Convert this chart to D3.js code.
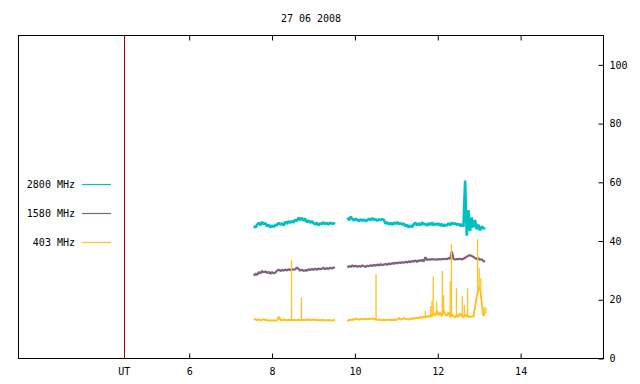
<!DOCTYPE html>
<html>
<head>
<meta charset="utf-8">
<script src="https://cdn.jsdelivr.net/npm/d3@7.9.0/dist/d3.min.js"></script>
<style>
  html, body { margin: 0; padding: 0; background: #fff; }
  svg text { font-family: 'DejaVu Sans Mono', 'Liberation Mono', monospace; font-size: 10px; fill: #000; }
</style>
</head>
<body>
<svg id="chart" width="640" height="384"></svg>
<script>
// Chart title and axis labels
const title = '27 06 2008';
const xTicks = [6, 8, 10, 12, 14];
const yTicks = [0, 20, 40, 60, 80, 100];
const utTime = 4.435; // red marker on the time axis, labelled "UT"

// Sampling of the records (hours UT)
const step = 0.04;
const seg1Start = 7.56;
const seg2Start = 9.82;

// 2800 MHz flux
const f2800a = [
  45.2, 44.6, 45.6, 46.2, 45.4, 46.5, 45.7, 46.1, 45.0, 45.6,
  44.6, 45.3, 44.8, 45.5, 45.4, 46.2, 45.6, 46.0, 45.3, 46.6,
  45.9, 46.8, 46.2, 46.9, 46.3, 47.3, 46.8, 48.0, 47.2, 47.9,
  47.0, 47.6, 46.4, 47.0, 46.2, 46.8, 46.1, 45.6, 46.3, 45.3,
  46.0, 45.8, 46.4, 45.7, 46.2, 45.6, 46.3, 45.9, 46.1, 45.8
];
const f2800b = [
  47.9, 47.1, 48.3, 47.5, 47.0, 47.6, 47.2, 46.8, 47.4, 46.9,
  47.3, 46.7, 47.2, 47.6, 47.1, 47.8, 47.2, 47.5, 46.9, 47.4,
  47.1, 47.5, 47.2, 45.9, 46.4, 45.6, 46.2, 45.5, 46.3, 45.8,
  46.5, 45.7, 46.1, 45.6, 46.0, 45.0, 45.6, 44.6, 45.3, 44.8,
  45.7, 46.2, 45.4, 46.0, 45.3, 46.4, 45.6, 45.9, 45.2, 46.1,
  45.5, 46.3, 45.4, 45.9, 45.6, 46.0, 45.2, 45.8, 45.0, 45.6,
  45.3, 46.0, 45.4, 46.3, 45.7, 46.1, 45.5, 45.9, 45.1, 45.8,
  44.9, 60.6, 41.8, 50.5, 43.4, 48.0, 44.6, 47.2, 44.0, 45.6,
  43.6, 45.0, 44.2, 44.6
];

// 1580 MHz flux
const f1580a = [
  28.2, 28.9, 28.5, 29.4, 29.0, 29.8, 29.3, 29.7, 29.1, 29.5,
  28.9, 29.4, 29.0, 29.3, 29.9, 30.3, 29.8, 30.2, 29.9, 30.3,
  30.0, 30.4, 30.1, 30.5, 30.2, 30.4, 31.0, 30.5, 29.9, 30.3,
  29.8, 30.1, 29.9, 30.4, 30.1, 30.5, 30.2, 30.6, 30.2, 30.7,
  30.4, 30.5, 30.9, 30.4, 30.8, 30.5, 30.9, 30.6, 31.0, 30.9
];
const f1580b = [
  31.0, 31.5, 31.2, 31.7, 31.3, 31.6, 31.2, 31.5, 31.3, 31.7,
  31.4, 31.2, 31.6, 31.4, 31.8, 31.5, 31.9, 31.6, 32.0, 31.7,
  32.1, 31.8, 32.0, 32.2, 31.9, 32.4, 32.1, 32.5, 32.3, 32.6,
  32.4, 32.7, 32.5, 32.8, 32.6, 33.0, 32.7, 33.1, 32.8, 33.2,
  33.0, 33.4, 32.9, 33.5, 33.2, 33.6, 33.1, 34.5, 33.5, 33.8,
  33.6, 33.9, 33.7, 33.8, 33.6, 33.9, 33.7, 33.9, 33.8, 34.0,
  33.8, 34.2, 34.0, 36.4, 33.9, 33.7, 33.9, 33.8, 34.0, 33.7,
  34.0, 34.3, 34.7, 35.0, 35.2, 34.9, 34.6, 34.2, 33.9, 34.1,
  33.6, 33.8, 33.2, 33.0
];

// 403 MHz flux (background level)
const f403a = [
  13.2, 13.4, 13.1, 13.3, 13.0, 13.2, 13.4, 13.1, 13.0, 12.9,
  13.0, 12.9, 13.0, 12.9, 13.0, 14.2, 13.2, 13.0, 13.3, 13.1,
  13.0, 13.2, 13.1, 13.0, 13.2, 13.1, 13.0, 13.2, 13.0, 13.1,
  13.2, 13.1, 13.3, 13.2, 13.1, 13.2, 13.3, 13.1, 13.2, 13.0,
  13.1, 13.0, 13.1, 12.9, 13.0, 13.1, 13.0, 12.9, 13.0, 13.2
];
const f403b = [
  12.6, 13.2, 13.1, 13.3, 13.2, 13.6, 13.4, 13.3, 13.5, 13.4,
  13.4, 13.5, 13.4, 13.5, 13.4, 13.6, 13.5, 13.3, 13.2, 13.2,
  13.2, 13.1, 13.2, 13.1, 13.2, 13.2, 13.1, 13.2, 13.1, 13.2,
  13.2, 13.8, 13.4, 13.3, 13.8, 13.5, 13.4, 13.3, 13.6, 13.4,
  13.8, 13.5, 14.0, 13.6, 14.2, 13.8, 14.3, 14.0, 14.5, 14.1,
  14.8, 14.2, 15.5, 14.6, 16.2, 14.8, 15.6, 14.4, 16.5, 15.0,
  14.6, 15.8, 14.2, 15.0, 14.4, 14.0, 14.8, 14.2, 15.4, 14.4,
  14.0, 15.2, 14.1, 14.6, 14.0, 14.4, 14.2, 17.5, 21.0, 23.5,
  24.5, 19.0, 14.5, 15.5
];
// 403 MHz bursts: [time, peak]
const bursts403 = [
  [8.47, 33.6], [8.71, 20.7], [10.51, 28.8], [11.70, 16.2], [11.83, 17.9],
  [11.86, 19.7], [11.89, 27.9], [11.97, 19.4], [12.11, 29.8], [12.14, 21.6],
  [12.30, 26.4], [12.33, 39.0], [12.45, 23.9], [12.59, 21.3], [12.64, 18.2],
  [12.72, 23.9], [12.96, 40.6], [13.00, 30.7], [13.04, 27.3], [13.12, 17.6],
  [13.16, 17.4]
];

const seriesNames = ['2800 MHz', '1580 MHz', '403 MHz'];
const seriesColors = ['#00c0c0', '#806080', '#ffc020'];
const seriesWidths = [2.6, 2.2, 2];
const seriesData = [[f2800a, f2800b], [f1580a, f1580b], [f403a, f403b]];

const svg = d3.select('#chart');

// Scales
const x = d3.scaleLinear().domain([1.88, 16]).range([18.5, 603.5]);
const y = d3.scaleLinear().domain([0, 110]).range([358.5, 35.5]);

// Title
svg.append('text')
  .attr('x', 311)
  .attr('y', 22)
  .attr('text-anchor', 'middle')
  .text(title);

// Axes (ticks point inward like gnuplot)
svg.append('g')
  .attr('transform', 'translate(0,358.5)')
  .call(d3.axisBottom(x).tickValues(xTicks).tickSizeInner(-5).tickSizeOuter(0).tickPadding(9))
  .call(g => g.select('.domain').remove());

svg.append('g')
  .attr('transform', 'translate(0,35.5)')
  .call(d3.axisTop(x).tickValues(xTicks).tickSizeInner(-5).tickSizeOuter(0).tickFormat(''))
  .call(g => g.select('.domain').remove());

svg.append('g')
  .attr('transform', 'translate(603.5,0)')
  .call(d3.axisRight(y).tickValues(yTicks).tickSizeInner(-5).tickSizeOuter(0).tickPadding(6))
  .call(g => g.select('.domain').remove());

svg.selectAll('.tick text')
  .style('font-family', "'DejaVu Sans Mono', monospace")
  .style('font-size', '10px');

// Frame
svg.append('rect')
  .attr('x', 18.5)
  .attr('y', 35.5)
  .attr('width', 585)
  .attr('height', 323)
  .attr('fill', 'none')
  .attr('stroke', '#000');

// UT marker
svg.append('line')
  .attr('x1', Math.round(x(utTime)) + 0.5)
  .attr('x2', Math.round(x(utTime)) + 0.5)
  .attr('y1', 36)
  .attr('y2', 358)
  .attr('stroke', '#a00000');

svg.append('text')
  .attr('x', x(utTime))
  .attr('y', 374.5)
  .attr('text-anchor', 'middle')
  .text('UT');

// Line generator for a segment sampled every `step` hours
function segLine(start) {
  return d3.line()
    .x((d, i) => x(start + i * step))
    .y(d => y(d));
}

const starts = [seg1Start, seg2Start];

seriesData.forEach((segs, k) => {
  segs.forEach((vals, s) => {
    svg.append('path')
      .datum(vals)
      .attr('fill', 'none')
      .attr('stroke', seriesColors[k])
      .attr('stroke-width', seriesWidths[k])
      .attr('stroke-linejoin', 'bevel')
      .attr('d', segLine(starts[s]));
  });
});

// 403 MHz bursts drawn up from the local background level
function baseAt(t) {
  const s = t < seg2Start ? 0 : 1;
  const vals = s === 0 ? f403a : f403b;
  const i = Math.max(0, Math.min(vals.length - 1, Math.round((t - starts[s]) / step)));
  return vals[i];
}

svg.append('g')
  .selectAll('line')
  .data(bursts403)
  .join('line')
  .attr('x1', d => x(d[0]))
  .attr('x2', d => x(d[0]))
  .attr('y1', d => y(baseAt(d[0])))
  .attr('y2', d => y(d[1]))
  .attr('stroke', seriesColors[2])
  .attr('stroke-width', 1.3);

// Legend
const legend = svg.append('g')
  .selectAll('g')
  .data(seriesNames)
  .join('g')
  .attr('transform', (d, i) => `translate(0,${184.5 + i * 29})`);

legend.append('text')
  .attr('x', 75)
  .attr('y', 3.5)
  .attr('text-anchor', 'end')
  .text(d => d);

legend.append('line')
  .attr('x1', 82)
  .attr('x2', 111)
  .attr('stroke', (d, i) => seriesColors[i])
  .attr('stroke-width', 1.2);
</script>
</body>
</html>
